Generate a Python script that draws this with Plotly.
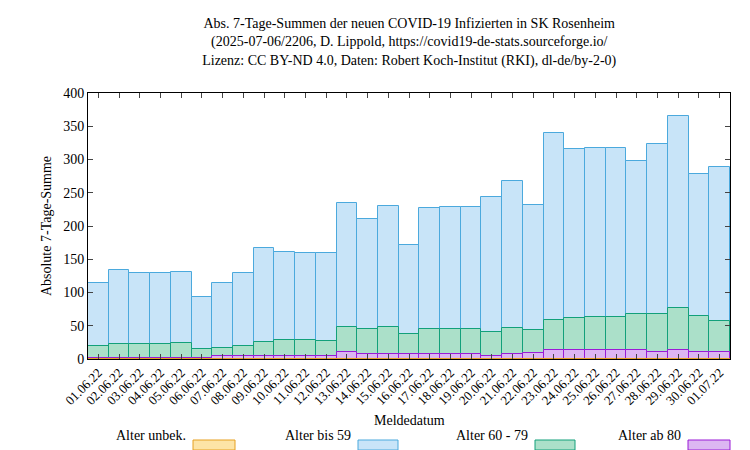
import plotly.graph_objects as go

dates = ["01.06.22","02.06.22","03.06.22","04.06.22","05.06.22","06.06.22","07.06.22","08.06.22",
         "09.06.22","10.06.22","11.06.22","12.06.22","13.06.22","14.06.22","15.06.22","16.06.22",
         "17.06.22","18.06.22","19.06.22","20.06.22","21.06.22","22.06.22","23.06.22","24.06.22",
         "25.06.22","26.06.22","27.06.22","28.06.22","29.06.22","30.06.22","01.07.22"]
# cumulative stacked tops
top_total = [114,134,129,130,131,93,115,129,167,161,160,159,234,211,230,172,227,228,228,243,267,231,
             340,316,318,318,298,323,366,278,289]
top_60plus = [19,22,22,22,24,15,17,20,26,28,28,27,48,45,48,38,45,45,45,41,46,43,59,61,63,63,67,67,76,65,57]
top_80plus = [2,2,2,2,2,2,4,4,4,5,5,5,10,7,7,7,7,7,7,5,8,9,13,13,14,14,14,11,13,10,10]
top_unbek = [0]*31

series = [
    ("Alter bis 59", top_total, "#c8e4f8", "#4ba9dd"),
    ("Alter 60 - 79", top_60plus, "#abe0c9", "#12a07a"),
    ("Alter ab 80", top_80plus, "#dcb6f2", "#9a1bd6"),
    ("Alter unbek.", top_unbek, "#fde4a6", "#e6a020"),
]
font = "Liberation Serif"
fig = go.Figure()
for name, vals, fc, lc in series:
    fig.add_trace(go.Bar(x=dates, y=vals, name=name, marker=dict(color=fc, line=dict(color=lc, width=1))))

fig.update_layout(
    width=750, height=450, barmode="overlay", bargap=0, showlegend=False,
    plot_bgcolor="white", paper_bgcolor="white",
    margin=dict(l=80, r=28, t=85, b=99, autoexpand=False),
    font=dict(family=font, size=14, color="black"),
    title=dict(text="Abs. 7-Tage-Summen der neuen COVID-19 Infizierten in SK Rosenheim<br>(2025-07-06/2206, D. Lippold, https://covid19-de-stats.sourceforge.io/<br>Lizenz: CC BY-ND 4.0, Daten: Robert Koch-Institut (RKI), dl-de/by-2-0)",
               x=0.535, xanchor="center", y=0.955, yanchor="top", font=dict(size=14)),
)
fig.update_xaxes(tickangle=-45, ticks="inside", mirror="ticks", showline=True, linecolor="black",
                 tickfont=dict(size=13), ticklen=5, automargin=False)
fig.update_yaxes(range=[0, 400], dtick=50, ticks="inside", mirror="ticks", showline=True,
                 linecolor="black", ticklen=5, showgrid=False, zeroline=False, automargin=False,
                 title=dict(text="Absolute 7-Tage-Summe", font=dict(size=14), standoff=8))
W, H = 642.0, 266.0
def px(x): return (x - 80) / W
def py(y): return (351 - y) / H
fig.add_annotation(text="Meldedatum", xref="paper", yref="paper", x=px(401), y=py(422), showarrow=False,
                   font=dict(size=14))
# legend (text then swatch): text right edge, swatch x0, x1 in pixels
leg = [("Alter unbek.", 180, 185, 227, "#fde4a6", "#e6a020"),
       ("Alter bis 59", 345, 350, 390, "#c8e4f8", "#4ba9dd"),
       ("Alter 60 - 79", 522, 527, 567, "#abe0c9", "#12a07a"),
       ("Alter ab 80", 675, 680, 722, "#dcb6f2", "#9a1bd6")]
for t, tx, s0, s1, fc, lc in leg:
    fig.add_annotation(text=t, xref="paper", yref="paper", x=px(tx), y=py(437), xanchor="right",
                       showarrow=False, font=dict(size=14), xshift=0)
    fig.add_shape(type="rect", xref="paper", yref="paper", x0=px(s0), x1=px(s1),
                  y0=py(442), y1=py(432), fillcolor=fc, line=dict(color=lc, width=1))
fig.write_html("out.html")
